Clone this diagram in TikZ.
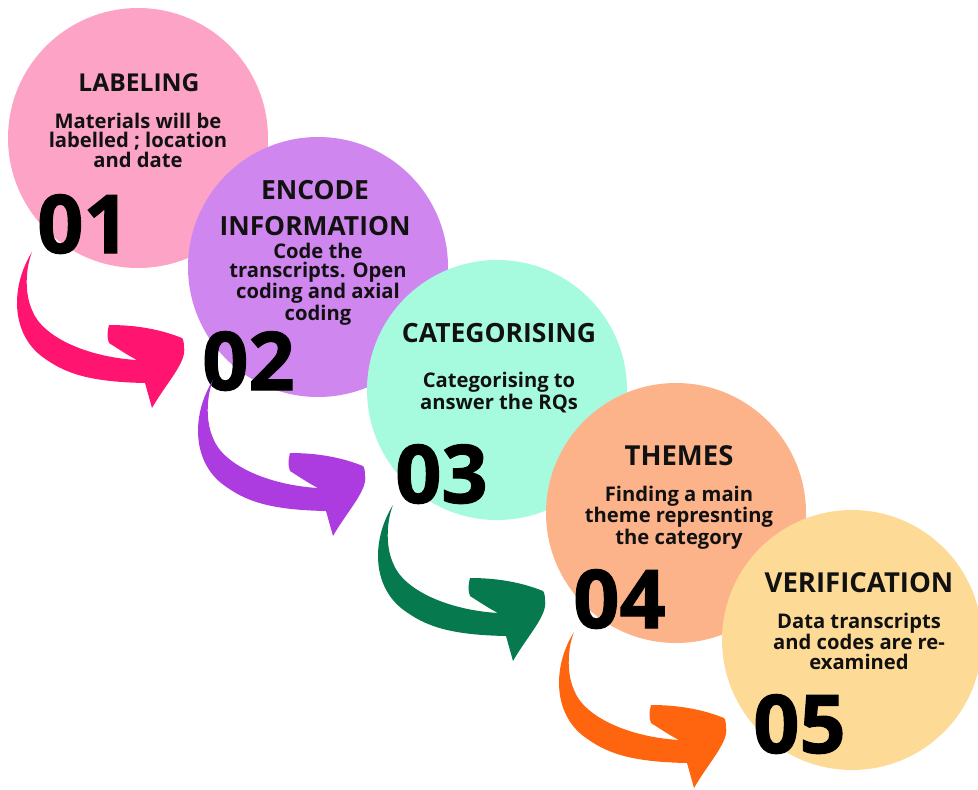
\documentclass[tikz,border=0pt]{standalone}
\usepackage{fontspec}
\setmainfont{Open Sans}
\newfontfamily\numfont{Open Sans}[UprightFont=* Bold, FakeBold=1.4]

\definecolor{ink}{HTML}{111111}
\definecolor{pinkdisc}{HTML}{FDA3C6}
\definecolor{purpledisc}{HTML}{D086EF}
\definecolor{mintdisc}{HTML}{A6FBDF}
\definecolor{peachdisc}{HTML}{FDB38A}
\definecolor{yellowdisc}{HTML}{FEDA97}
\definecolor{pinkarrow}{HTML}{FF1470}
\definecolor{purplearrow}{HTML}{AC3CE0}
\definecolor{greenarrow}{HTML}{06794E}
\definecolor{orangearrow}{HTML}{FF650E}

\tikzset{
  disc/.style={circle, minimum size=260pt, inner sep=0pt, draw=none},
  heading/.style={font=\fontsize{#1}{36}\selectfont\bfseries, text=ink, align=center, anchor=base, inner sep=0pt},
  heading/.default=25,
  blurb/.style={font=\fontsize{20.2}{19.5}\selectfont\bfseries, text=ink, align=center, anchor=base, inner sep=0pt},
  stepno/.style={font=\fontsize{81}{81}\numfont, text=black, anchor=base west, inner sep=0pt},
  bentarrow/.pic={
    \fill[pic actions] (0,0) .. controls (-22,35) and (-22,85) .. (15,108)
      .. controls (35,122) and (60,130) .. (113,131) -- (120,156)
      .. controls (135,130) and (155,110) .. (152,95)
      .. controls (152,90) and (151,87) .. (150,86)
      .. controls (125,76) and (100,73) .. (77,73)
      .. controls (75,80) and (75,86) .. (77,91)
      .. controls (88,98) and (97,104) .. (105,108)
      .. controls (55,105) and (10,85) .. (0,58)
      .. controls (-8,40) and (-6,15) .. (0,0) -- cycle;
  }
}

\begin{document}
\begin{tikzpicture}[x=1pt, y=-1pt]
	\useasboundingbox (0,0) rectangle (978,790);
	
	\node[disc, fill=pinkdisc] (c1) at (138,138) {};
	\node[disc, fill=purpledisc] (c2) at (318,267) {};
	\node[disc, fill=mintdisc] (c3) at (497,390) {};
	\node[disc, fill=peachdisc] (c4) at (676,513) {};
	\node[disc, fill=yellowdisc] (c5) at (852,640) {};
	
	% multi-line nodes sit on the baseline of their last line
	\node[heading=24.6] (h1) at (139,91) {LABELING};
	\node[heading=26.4] (h2) at (315,235) {ENCODE\\INFORMATION};
	\node[heading=26.5] (h3) at (499,342) {CATEGORISING};
	\node[heading=27.5] (h4) at (679,465) {THEMES};
	\node[heading=27.5] (h5) at (859,592) {VERIFICATION};
	
	\node[blurb] (b1) at (138,167) {Materials will be\\labelled ; location\\and date};
	\node[blurb] (b2) at (318,320) {Code the\\transcripts. Open\\coding and axial\\coding};
	\node[blurb] (b3) at (499,409) {Categorising to\\answer the RQs};
	\node[blurb] (b4) at (679,544) {Finding a main\\theme represnting\\the category};
	\node[blurb] (b5) at (859,669) {Data transcripts\\and codes are re-\\examined};
	
	\node[stepno] (n1) at (37,253) {01};
	\node[stepno] (n2) at (202,390) {02};
	\node[stepno] (n3) at (395,503) {03};
	\node[stepno] (n4) at (573,628) {04};
	\node[stepno] (n5) at (753,753) {05};
	
	\coordinate (t1) at (32,252);
	\coordinate (t2) at (213,380);
	\coordinate (t3) at (393,505);
	\coordinate (t4) at (574,632);
	
	\pic[fill=pinkarrow] at (t1) {bentarrow};
	\pic[fill=purplearrow] at (t2) {bentarrow};
	\pic[fill=greenarrow] at (t3) {bentarrow};
	\pic[fill=orangearrow] at (t4) {bentarrow};

\end{tikzpicture}
\end{document}
